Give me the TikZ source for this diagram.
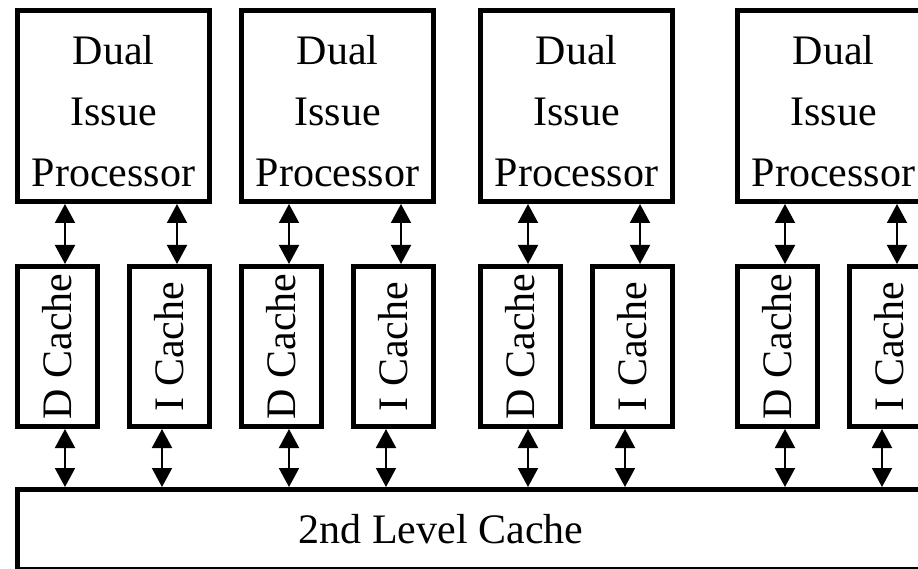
\documentclass[tikz,border=0pt]{standalone}
\usepackage{fontspec}
\setmainfont{Liberation Serif}
\usetikzlibrary{arrows.meta}
\tikzset{
  box/.style={draw=black, line width=5pt, fill=white, inner sep=0pt},
  procbox/.style={box, minimum width=192pt, minimum height=191pt, align=center,
    font=\fontsize{42}{61}\selectfont},
  cachebox/.style={box, rotate=90, minimum width=160pt, minimum height=80pt,
    font=\fontsize{42}{50}\selectfont},
  l2box/.style={box, minimum width=982.5pt, minimum height=80pt},
  bigtext/.style={inner sep=0pt, font=\fontsize{42}{50}\selectfont},
  conn/.style={line width=2pt, {Triangle[width=20pt,length=19pt]}-{Triangle[width=20pt,length=19pt]}}
}
\begin{document}
\begin{tikzpicture}[x=1pt,y=-1pt]
\clip (0,0) rectangle (918,569);
\fill[white] (0,0) rectangle (918,569);
% second level cache
\node[l2box] (l2) at (508.75,529.5) {};
\node[bigtext] (l2t) at (441,528.7) {2nd Level Cache};
% columns
\foreach \L [count=\k] in {15,239,478,735}{
  \node[procbox] (p\k) at (\L+98.5,106) {\rule{0pt}{40pt}Dual\\Issue\\Processor};
  \node[cachebox] (d\k) at (\L+42.5,346.5) {D Cache};
  \node[cachebox] (i\k) at (\L+154.5,346.5) {I Cache};
  \draw[conn] ([xshift=7.5pt]d\k.center |- p\k.south) -- ([xshift=7.5pt]d\k.center |- d\k.east);
  \draw[conn] ([xshift=7.5pt]i\k.center |- p\k.south) -- ([xshift=7.5pt]i\k.center |- i\k.east);
  \draw[conn] ([xshift=7.5pt]d\k.center |- d\k.west) -- ([xshift=7.5pt]d\k.center |- l2.north);
  \draw[conn] ([xshift=-7.5pt]i\k.center |- i\k.west) -- ([xshift=-7.5pt]i\k.center |- l2.north);
}
\end{tikzpicture}
\end{document}
